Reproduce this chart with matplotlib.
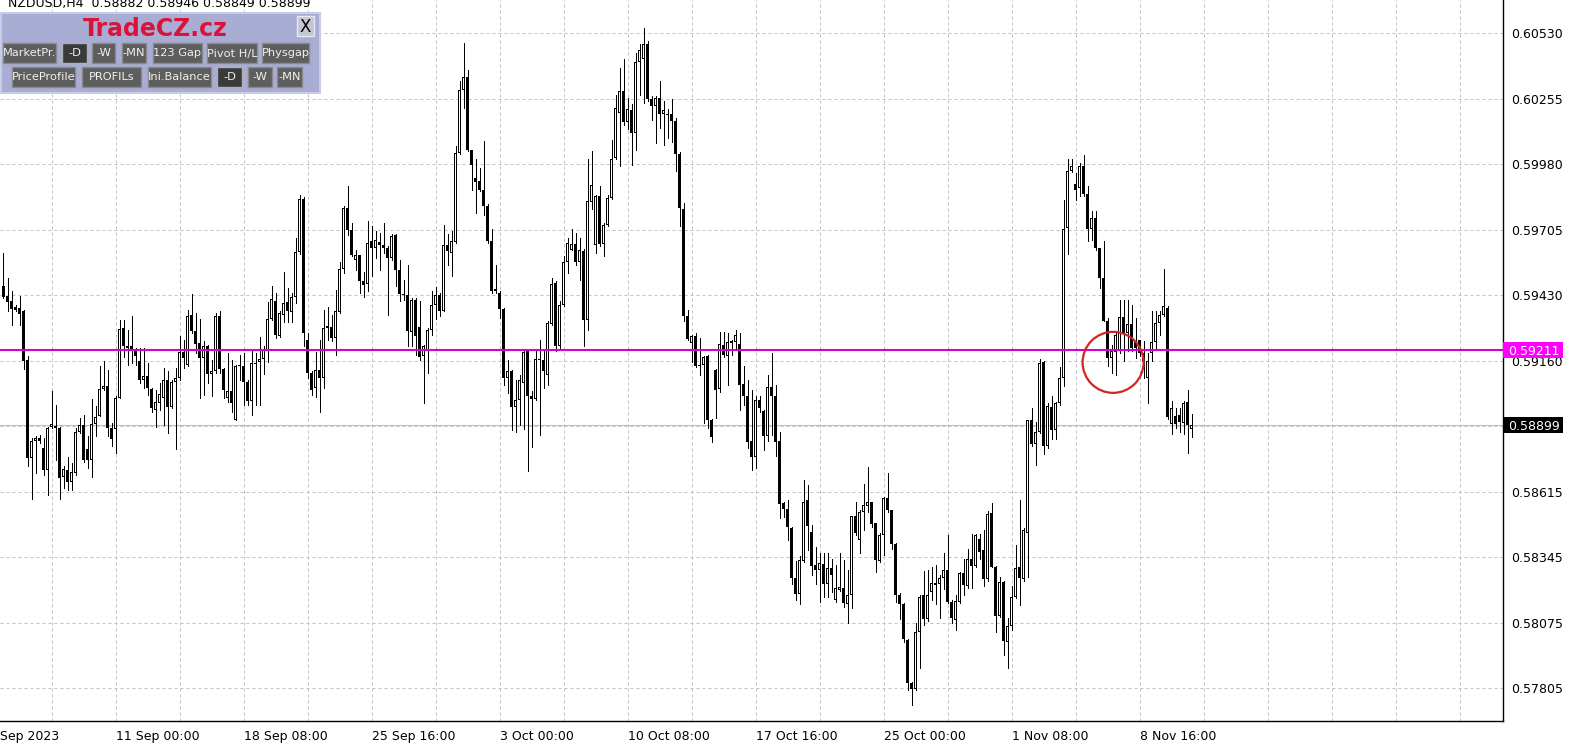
import numpy as np
import matplotlib
matplotlib.use("Agg")
import matplotlib.pyplot as plt
from matplotlib.patches import Rectangle, Ellipse

# NZDUSD H4 candles, 4 Sep 2023 08:00 .. 10 Nov 2023 20:00 (bar index 0..297)
opens = [
    0.59478, 0.59436, 0.59415, 0.59390, 0.59387, 0.59373, 0.59169, 0.58762, 0.58832, 0.58846,
    0.58804, 0.58714, 0.58891, 0.58898, 0.58887, 0.58683, 0.58714, 0.58665, 0.58700, 0.58873,
    0.58901, 0.58801, 0.58753, 0.58904, 0.58936, 0.59050, 0.59061, 0.58887, 0.58883, 0.59012,
    0.59304, 0.59230, 0.59227, 0.59213, 0.59167, 0.59088, 0.59105, 0.59051, 0.58963, 0.58994,
    0.59012, 0.59088, 0.58977, 0.59081, 0.59095, 0.59206, 0.59151, 0.59359, 0.59290, 0.59241,
    0.59181, 0.59227, 0.59113, 0.59123, 0.59352, 0.59133, 0.59012, 0.59043, 0.58922, 0.59144,
    0.59146, 0.59081, 0.59000, 0.59157, 0.59161, 0.59175, 0.59213, 0.59342, 0.59417, 0.59271,
    0.59359, 0.59414, 0.59370, 0.59431, 0.59620, 0.59842, 0.59254, 0.59116, 0.59053, 0.59130,
    0.59095, 0.59306, 0.59310, 0.59264, 0.59370, 0.59549, 0.59803, 0.59713, 0.59588, 0.59609,
    0.59500, 0.59487, 0.59665, 0.59637, 0.59662, 0.59651, 0.59637, 0.59595, 0.59689, 0.59547,
    0.59447, 0.59443, 0.59287, 0.59422, 0.59308, 0.59186, 0.59213, 0.59297, 0.59401, 0.59443,
    0.59376, 0.59648, 0.59616, 0.59662, 0.60033, 0.60293, 0.60350, 0.60043, 0.59926, 0.59915,
    0.59880, 0.59811, 0.59665, 0.59457, 0.59450, 0.59383, 0.59096, 0.59123, 0.58975, 0.59003,
    0.59075, 0.59207, 0.59022, 0.59008, 0.59175, 0.59169, 0.59107, 0.59321, 0.59491, 0.59230,
    0.59398, 0.59578, 0.59630, 0.59654, 0.59578, 0.59626, 0.59336, 0.59829, 0.59650, 0.59855,
    0.59655, 0.59734, 0.59845, 0.60012, 0.60199, 0.60292, 0.60160, 0.60210, 0.60116, 0.60412,
    0.60424, 0.60484, 0.60255, 0.60227, 0.60262, 0.60195, 0.60192, 0.60195, 0.60167, 0.60028,
    0.59800, 0.59355, 0.59241, 0.59269, 0.59151, 0.59151, 0.59188, 0.58921, 0.59130, 0.59049,
    0.59234, 0.59188, 0.59250, 0.59244, 0.59238, 0.59070, 0.59021, 0.58835, 0.58766, 0.59005,
    0.58960, 0.58856, 0.59060, 0.59021, 0.58835, 0.58577, 0.58553, 0.58470, 0.58262, 0.58196,
    0.58335, 0.58588, 0.58456, 0.58317, 0.58299, 0.58324, 0.58241, 0.58307, 0.58174, 0.58216,
    0.58223, 0.58154, 0.58195, 0.58522, 0.58422, 0.58537, 0.58565, 0.58579, 0.58491, 0.58334,
    0.58443, 0.58595, 0.58547, 0.58404, 0.58193, 0.58155, 0.58008, 0.57825, 0.57801, 0.58040,
    0.58193, 0.58095, 0.58204, 0.58244, 0.58237, 0.58262, 0.58297, 0.58165, 0.58088, 0.58165,
    0.58283, 0.58231, 0.58344, 0.58315, 0.58428, 0.58379, 0.58259, 0.58534, 0.58311, 0.58104,
    0.58249, 0.57999, 0.58065, 0.58184, 0.58308, 0.58259, 0.58452, 0.58921, 0.58822, 0.58871,
    0.59164, 0.58815, 0.58977, 0.58878, 0.58991, 0.59094, 0.59719, 0.59958, 0.59902, 0.59887,
    0.59978, 0.59860, 0.59714, 0.59762, 0.59635, 0.59512, 0.59332, 0.59179, 0.59204, 0.59207,
    0.59349, 0.59283, 0.59321, 0.59249, 0.59255, 0.59200, 0.59096, 0.59200, 0.59246, 0.59325,
    0.59357, 0.59387, 0.58904, 0.58936, 0.58940, 0.58908, 0.58996, 0.58882,
]
highs = [
    0.59616, 0.59512, 0.59457, 0.59401, 0.59436, 0.59378, 0.59186, 0.58846, 0.58853, 0.58860,
    0.58846, 0.58894, 0.59040, 0.58984, 0.58894, 0.58728, 0.58769, 0.58741, 0.58887, 0.58929,
    0.58943, 0.58853, 0.59008, 0.58978, 0.59147, 0.59165, 0.59130, 0.58908, 0.59019, 0.59339,
    0.59339, 0.59297, 0.59352, 0.59220, 0.59220, 0.59220, 0.59158, 0.59054, 0.59047, 0.59074,
    0.59137, 0.59123, 0.59088, 0.59137, 0.59269, 0.59255, 0.59380, 0.59447, 0.59366, 0.59342,
    0.59248, 0.59234, 0.59172, 0.59366, 0.59373, 0.59137, 0.59199, 0.59172, 0.59151, 0.59192,
    0.59199, 0.59088, 0.59213, 0.59199, 0.59268, 0.59227, 0.59414, 0.59479, 0.59449, 0.59373,
    0.59539, 0.59470, 0.59449, 0.59678, 0.59856, 0.59850, 0.59282, 0.59123, 0.59206, 0.59254,
    0.59379, 0.59393, 0.59359, 0.59463, 0.59578, 0.59810, 0.59893, 0.59741, 0.59629, 0.59609,
    0.59539, 0.59748, 0.59727, 0.59707, 0.59700, 0.59741, 0.59644, 0.59693, 0.59693, 0.59588,
    0.59505, 0.59568, 0.59429, 0.59429, 0.59415, 0.59234, 0.59304, 0.59457, 0.59475, 0.59450,
    0.59734, 0.59693, 0.59707, 0.60061, 0.60332, 0.60491, 0.60376, 0.60043, 0.60005, 0.59968,
    0.60084, 0.59818, 0.59714, 0.59568, 0.59457, 0.59387, 0.59169, 0.59130, 0.59089, 0.59109,
    0.59214, 0.59214, 0.59040, 0.59214, 0.59255, 0.59214, 0.59332, 0.59512, 0.59498, 0.59415,
    0.59605, 0.59679, 0.59714, 0.59700, 0.59679, 0.59633, 0.60005, 0.60040, 0.59859, 0.59894,
    0.59741, 0.59859, 0.60088, 0.60275, 0.60387, 0.60421, 0.60262, 0.60234, 0.60449, 0.60484,
    0.60553, 0.60498, 0.60269, 0.60269, 0.60331, 0.60248, 0.60216, 0.60257, 0.60178, 0.60035,
    0.59824, 0.59380, 0.59275, 0.59285, 0.59262, 0.59188, 0.59192, 0.58924, 0.59132, 0.59289,
    0.59289, 0.59282, 0.59255, 0.59296, 0.59282, 0.59144, 0.59088, 0.59046, 0.59019, 0.59019,
    0.58963, 0.59109, 0.59199, 0.59067, 0.58873, 0.58581, 0.58588, 0.58477, 0.58335, 0.58355,
    0.58671, 0.58650, 0.58484, 0.58394, 0.58366, 0.58366, 0.58366, 0.58345, 0.58317, 0.58366,
    0.58338, 0.58297, 0.58522, 0.58582, 0.58547, 0.58654, 0.58727, 0.58582, 0.58491, 0.58450,
    0.58602, 0.58700, 0.58547, 0.58408, 0.58200, 0.58158, 0.58012, 0.57832, 0.58075, 0.58193,
    0.58293, 0.58297, 0.58311, 0.58320, 0.58276, 0.58366, 0.58443, 0.58172, 0.58193, 0.58290,
    0.58345, 0.58386, 0.58449, 0.58449, 0.58449, 0.58463, 0.58541, 0.58576, 0.58315, 0.58266,
    0.58252, 0.58097, 0.58231, 0.58400, 0.58590, 0.58470, 0.58921, 0.58970, 0.58914, 0.59174,
    0.59167, 0.58991, 0.59019, 0.58998, 0.59142, 0.59836, 0.60005, 0.60009, 0.59948, 0.59992,
    0.60024, 0.59894, 0.59790, 0.59790, 0.59637, 0.59665, 0.59346, 0.59235, 0.59293, 0.59422,
    0.59422, 0.59422, 0.59401, 0.59346, 0.59255, 0.59249, 0.59200, 0.59374, 0.59374, 0.59374,
    0.59551, 0.59394, 0.58999, 0.58971, 0.58971, 0.58999, 0.59047, 0.58946,
]
lows = [
    0.59429, 0.59373, 0.59318, 0.59373, 0.59318, 0.59133, 0.58728, 0.58591, 0.58700, 0.58825,
    0.58693, 0.58610, 0.58887, 0.58755, 0.58591, 0.58637, 0.58630, 0.58630, 0.58693, 0.58866,
    0.58748, 0.58721, 0.58683, 0.58853, 0.58936, 0.59047, 0.58853, 0.58811, 0.58783, 0.59012,
    0.59185, 0.59151, 0.59158, 0.59151, 0.59074, 0.59054, 0.59026, 0.58956, 0.58894, 0.58963,
    0.58901, 0.58866, 0.58970, 0.58799, 0.59088, 0.59137, 0.59144, 0.59283, 0.59199, 0.59012,
    0.59026, 0.59074, 0.59019, 0.59116, 0.59116, 0.59012, 0.58998, 0.58956, 0.58922, 0.59088,
    0.58984, 0.58984, 0.58942, 0.58984, 0.58984, 0.59111, 0.59164, 0.59338, 0.59261, 0.59268,
    0.59331, 0.59331, 0.59331, 0.59407, 0.59611, 0.59227, 0.59095, 0.59025, 0.59018, 0.58956,
    0.59053, 0.59254, 0.59248, 0.59192, 0.59366, 0.59532, 0.59692, 0.59602, 0.59546, 0.59449,
    0.59435, 0.59457, 0.59519, 0.59595, 0.59547, 0.59616, 0.59359, 0.59588, 0.59477, 0.59415,
    0.59422, 0.59227, 0.59227, 0.59193, 0.59172, 0.58994, 0.59116, 0.59276, 0.59341, 0.59352,
    0.59373, 0.59568, 0.59519, 0.59658, 0.60026, 0.60220, 0.60040, 0.59880, 0.59783, 0.59873,
    0.59776, 0.59658, 0.59450, 0.59450, 0.59346, 0.59068, 0.59033, 0.58880, 0.58873, 0.58901,
    0.58883, 0.58707, 0.58808, 0.59005, 0.58860, 0.59054, 0.59068, 0.59318, 0.59207, 0.59214,
    0.59394, 0.59533, 0.59628, 0.59568, 0.59503, 0.59230, 0.59297, 0.59797, 0.59616, 0.59644,
    0.59603, 0.59727, 0.59842, 0.60007, 0.59980, 0.60150, 0.60130, 0.59984, 0.60046, 0.60275,
    0.60241, 0.60248, 0.60171, 0.60074, 0.60137, 0.60067, 0.60095, 0.60077, 0.59956, 0.59727,
    0.59335, 0.59252, 0.59162, 0.59141, 0.59109, 0.58907, 0.58887, 0.58831, 0.58928, 0.59039,
    0.59185, 0.59067, 0.59192, 0.59220, 0.58963, 0.58984, 0.58803, 0.58713, 0.58720, 0.58956,
    0.58796, 0.58835, 0.58859, 0.58771, 0.58512, 0.58519, 0.58421, 0.58241, 0.58174, 0.58155,
    0.58331, 0.58382, 0.58276, 0.58241, 0.58164, 0.58185, 0.58185, 0.58206, 0.58164, 0.58210,
    0.58144, 0.58075, 0.58137, 0.58443, 0.58366, 0.58463, 0.58540, 0.58477, 0.58290, 0.58332,
    0.58359, 0.58540, 0.58384, 0.58165, 0.58095, 0.57998, 0.57797, 0.57734, 0.57797, 0.57891,
    0.58068, 0.58086, 0.58172, 0.58154, 0.58098, 0.58220, 0.58158, 0.58075, 0.58047, 0.58158,
    0.58193, 0.58224, 0.58224, 0.58308, 0.58344, 0.58231, 0.58252, 0.58308, 0.58041, 0.58100,
    0.57942, 0.57889, 0.58048, 0.58182, 0.58151, 0.58252, 0.58266, 0.58815, 0.58733, 0.58869,
    0.58780, 0.58804, 0.58843, 0.58843, 0.58984, 0.59061, 0.59610, 0.59955, 0.59836, 0.59853,
    0.59853, 0.59665, 0.59672, 0.59630, 0.59471, 0.59332, 0.59144, 0.59117, 0.59110, 0.59200,
    0.59165, 0.59207, 0.59207, 0.59179, 0.59186, 0.59096, 0.58992, 0.59165, 0.59221, 0.59276,
    0.59353, 0.58926, 0.58862, 0.58887, 0.58871, 0.58862, 0.58783, 0.58849,
]
closes = [
    0.59433, 0.59412, 0.59384, 0.59380, 0.59364, 0.59165, 0.58762, 0.58832, 0.58846, 0.58832,
    0.58714, 0.58887, 0.58904, 0.58887, 0.58679, 0.58716, 0.58665, 0.58704, 0.58873, 0.58901,
    0.58755, 0.58755, 0.58905, 0.58932, 0.59050, 0.59061, 0.58887, 0.58841, 0.59012, 0.59300,
    0.59230, 0.59222, 0.59213, 0.59188, 0.59088, 0.59105, 0.59054, 0.58970, 0.58995, 0.59029,
    0.59088, 0.58977, 0.59081, 0.59095, 0.59206, 0.59179, 0.59355, 0.59290, 0.59237, 0.59181,
    0.59227, 0.59113, 0.59126, 0.59352, 0.59133, 0.59047, 0.59043, 0.58991, 0.59147, 0.59151,
    0.59081, 0.59000, 0.59157, 0.59154, 0.59175, 0.59216, 0.59342, 0.59424, 0.59273, 0.59366,
    0.59410, 0.59373, 0.59435, 0.59620, 0.59842, 0.59282, 0.59116, 0.59046, 0.59130, 0.59095,
    0.59306, 0.59313, 0.59261, 0.59373, 0.59549, 0.59803, 0.59713, 0.59606, 0.59609, 0.59500,
    0.59484, 0.59658, 0.59637, 0.59668, 0.59648, 0.59637, 0.59595, 0.59686, 0.59547, 0.59445,
    0.59440, 0.59290, 0.59422, 0.59269, 0.59182, 0.59227, 0.59297, 0.59401, 0.59443, 0.59376,
    0.59648, 0.59623, 0.59665, 0.60033, 0.60293, 0.60350, 0.60043, 0.59982, 0.59912, 0.59880,
    0.59811, 0.59665, 0.59457, 0.59466, 0.59383, 0.59096, 0.59123, 0.58975, 0.59003, 0.59089,
    0.59203, 0.59019, 0.59008, 0.59175, 0.59169, 0.59123, 0.59325, 0.59487, 0.59230, 0.59401,
    0.59579, 0.59658, 0.59654, 0.59578, 0.59630, 0.59336, 0.59832, 0.59897, 0.59855, 0.59655,
    0.59734, 0.59845, 0.60007, 0.60220, 0.60292, 0.60160, 0.60213, 0.60116, 0.60412, 0.60459,
    0.60484, 0.60255, 0.60227, 0.60262, 0.60195, 0.60209, 0.60189, 0.60164, 0.60028, 0.59803,
    0.59352, 0.59257, 0.59269, 0.59144, 0.59144, 0.59182, 0.58921, 0.58852, 0.59046, 0.59238,
    0.59192, 0.59244, 0.59241, 0.59275, 0.59067, 0.59019, 0.58831, 0.58766, 0.59005, 0.58970,
    0.58856, 0.59060, 0.59021, 0.58831, 0.58570, 0.58553, 0.58474, 0.58262, 0.58196, 0.58338,
    0.58581, 0.58480, 0.58313, 0.58299, 0.58327, 0.58237, 0.58307, 0.58276, 0.58224, 0.58227,
    0.58158, 0.58195, 0.58522, 0.58452, 0.58537, 0.58568, 0.58579, 0.58487, 0.58338, 0.58443,
    0.58598, 0.58547, 0.58404, 0.58195, 0.58154, 0.58012, 0.57825, 0.57804, 0.58040, 0.58186,
    0.58095, 0.58195, 0.58244, 0.58234, 0.58262, 0.58297, 0.58162, 0.58098, 0.58168, 0.58283,
    0.58234, 0.58344, 0.58315, 0.58442, 0.58372, 0.58259, 0.58531, 0.58311, 0.58104, 0.58249,
    0.58001, 0.58065, 0.58184, 0.58306, 0.58263, 0.58463, 0.58921, 0.58822, 0.58871, 0.59160,
    0.58815, 0.58981, 0.58878, 0.58991, 0.59094, 0.59716, 0.59958, 0.59976, 0.59878, 0.59978,
    0.59860, 0.59714, 0.59762, 0.59635, 0.59510, 0.59332, 0.59179, 0.59207, 0.59276, 0.59349,
    0.59283, 0.59321, 0.59221, 0.59221, 0.59200, 0.59165, 0.59165, 0.59246, 0.59325, 0.59357,
    0.59396, 0.58932, 0.58971, 0.58904, 0.58912, 0.58992, 0.58901, 0.58899,
]

price_ticks = [0.60530, 0.60255, 0.59980, 0.59705, 0.59430, 0.59160,
               0.58885, 0.58615, 0.58345, 0.58075, 0.57805]
date_labels = ["4 Sep 2023", "11 Sep 00:00", "18 Sep 08:00", "25 Sep 16:00",
               "3 Oct 00:00", "10 Oct 08:00", "17 Oct 16:00", "25 Oct 00:00",
               "1 Nov 08:00", "8 Nov 16:00"]
date_label_bars = [-4, 28, 60, 92, 124, 156, 188, 220, 252, 284]

header_text = "NZDUSD,H4  0.58882 0.58946 0.58849 0.58899"
level_price = 0.59211
bid_price = 0.58899
circle_bar, circle_price = 277.4, 0.59161

row1_buttons = ["MarketPr.", "-D", "-W", "-MN", "123 Gap", "Pivot H/L", "Physgap"]
row2_buttons = ["PriceProfile", "PROFILs", "Ini.Balance", "-D", "-W", "-MN"]

# ---- layout (pixels of the 1574x751 picture) ----
W, H = 1574, 751
plot_right, plot_bottom = 1502.5, 721
y_top_tick, y_bot_tick = 33.3, 688.3          # pixel rows of 0.60530 and 0.57805
bar0_x, bar_px = 3.5, 4.0

fig = plt.figure(figsize=(W / 100, H / 100), dpi=100)
fig.patch.set_facecolor("white")
ax = fig.add_axes([0, (H - plot_bottom) / H, plot_right / W, plot_bottom / H])

ppx = (y_bot_tick - y_top_tick) / (price_ticks[0] - price_ticks[-1])
ax.set_ylim(price_ticks[-1] - (plot_bottom - y_bot_tick) / ppx,
            price_ticks[0] + y_top_tick / ppx)
ax.set_xlim(-bar0_x / bar_px, (plot_right - bar0_x) / bar_px)

o = np.array(opens); h = np.array(highs); l = np.array(lows); c = np.array(closes)
idx = np.arange(len(o))
one_px = 1 / ppx
body_lo = np.minimum(o, c)
body_hi = np.maximum(o, c)
body_h = np.maximum(body_hi - body_lo, one_px)
up = c > o

# wicks, then 3px black bodies, then 1px white core for rising candles
ax.vlines(idx, l, h, color="black", lw=0.72, zorder=3, antialiased=False)
ax.bar(idx, body_h, bottom=body_lo, width=3.2 / bar_px, color="black",
       linewidth=0, zorder=4, antialiased=False)
core = up & (body_h > 2.5 * one_px)
ax.bar(idx[core], body_h[core] - 2 * one_px, bottom=body_lo[core] + one_px,
       width=1.1 / bar_px, color="white", linewidth=0, zorder=5, antialiased=False)

# grid
grid_pos = np.linspace(price_ticks[-1], price_ticks[0], len(price_ticks))[::-1]
for p in grid_pos:
    ax.axhline(p, color="#c0c0c0", lw=0.72, ls=(0, (3, 3)), zorder=1)
for i in range(12, 375, 16):
    ax.axvline(i, color="#c0c0c0", lw=0.72, ls=(0, (3, 3)), zorder=1)

ax.axhline(bid_price, color="#c0c0c0", lw=0.8, zorder=2)
ax.axhline(level_price, color="#d400d4", lw=1.5, zorder=6)
ax.add_patch(Ellipse((circle_bar, circle_price), 61 / bar_px, 61 / ppx,
                     fill=False, ec="#d42424", lw=1.6, zorder=7))

for s in ["top", "left"]:
    ax.spines[s].set_visible(False)
for s in ["right", "bottom"]:
    ax.spines[s].set_color("black")
    ax.spines[s].set_linewidth(1.0)

ax.yaxis.tick_right()
ax.set_yticks(grid_pos)
ax.set_yticklabels([f"{p:.5f}" for p in price_ticks])
ax.tick_params(axis="y", length=0, pad=6, labelsize=9, colors="black")
ax.set_xticks([])

for b, lab in zip(date_label_bars, date_labels):
    ax.text(b, -9 / plot_bottom, lab, transform=ax.get_xaxis_transform(),
            ha="left", va="top", fontsize=9, clip_on=False)

# ---- overlay in pixel coordinates ----
ov = fig.add_axes([0, 0, 1, 1])
ov.set_xlim(0, W)
ov.set_ylim(H, 0)
ov.axis("off")
ov.patch.set_alpha(0)


def price_to_row(p):
    return H - ax.transData.transform((0, p))[1]


for p, fc in [(level_price, "#ff00ff"), (bid_price, "black")]:
    r = price_to_row(p)
    ov.add_patch(Rectangle((plot_right, r - 8), 60, 16, fc=fc, ec="none", zorder=3))
    ov.text(plot_right + 6, r, f"{p:.5f}", color="white", fontsize=9,
            ha="left", va="center_baseline", zorder=4)

ov.text(8, 7, header_text, fontsize=9, ha="left", va="baseline", color="black")

ov.add_patch(Rectangle((0.5, 12.5), 319.5, 80, fc="#a9add4", ec="#c8cce8", lw=1.5, zorder=2))
ov.text(155, 29, "TradeCZ.cz", color="#d8143c", fontsize=17, fontweight="bold",
        ha="center", va="center", zorder=3)
ov.add_patch(Rectangle((297, 16), 17, 20, fc="#c4c6d4", ec="#e6e8f2", lw=1, zorder=3))
ov.text(305.5, 26.5, "X", fontsize=12, ha="center", va="center", color="black", zorder=4)

row1_x = [(3, 56), (62, 87), (92, 115), (122, 146), (153, 202), (207, 257), (262, 309)]
row2_x = [(12, 75), (82, 141), (148, 211), (217, 242), (248, 272), (277, 302)]
for labels, xs, (y0, y1), sel in [(row1_buttons, row1_x, (43, 63), 1),
                                   (row2_buttons, row2_x, (67, 87), 3)]:
    for k, (lab, (x0, x1)) in enumerate(zip(labels, xs)):
        fc = "#3a3a3a" if k == sel else "#5e5e5e"
        ec = "#b0b0b0" if k == sel else "#8a8a8a"
        ov.add_patch(Rectangle((x0, y0), x1 - x0, y1 - y0, fc=fc, ec=ec, lw=1, zorder=3))
        ov.text((x0 + x1) / 2, (y0 + y1) / 2 + 0.5, lab, color="#f0f0f0", fontsize=8.2,
                ha="center", va="center", zorder=4)

fig.savefig("out.png", dpi=100)
